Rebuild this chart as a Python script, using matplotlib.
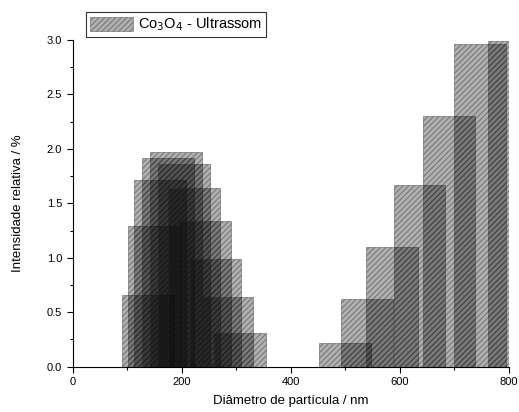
import matplotlib
matplotlib.use("Agg")
import matplotlib.pyplot as plt
from matplotlib.patches import Patch
from matplotlib.ticker import MultipleLocator

plt.rcParams["font.family"] = ["Liberation Sans", "DejaVu Sans"]
plt.rcParams["hatch.linewidth"] = 0.7

# --- Data (bin centre in nm, relative intensity in %) ---
diametro = [137.7, 149, 161, 175, 189.5, 205, 222, 243, 262, 284, 307,
            499, 540.5, 586, 636, 689.5, 747.5, 809.5]
intensidade = [0.66, 1.29, 1.71, 1.92, 1.97, 1.86, 1.64, 1.34, 0.99, 0.64, 0.31,
               0.22, 0.62, 1.10, 1.67, 2.30, 2.96, 2.99]
largura = 95

fig = plt.figure(figsize=(5.19, 4.12), dpi=100)
ax = fig.add_axes([0.1397, 0.110, 0.841, 0.793])

ax.bar(diametro, intensidade, width=largura, facecolor=(0, 0, 0, 0.31),
       edgecolor=(0.15, 0.15, 0.15, 0.45), linewidth=0.6, hatch="//////")

ax.set_xlim(0, 800)
ax.set_ylim(0, 3.0)
ax.xaxis.set_major_locator(MultipleLocator(200))
ax.xaxis.set_minor_locator(MultipleLocator(100))
ax.yaxis.set_major_locator(MultipleLocator(0.5))
ax.yaxis.set_minor_locator(MultipleLocator(0.25))
ax.yaxis.set_major_formatter(plt.FormatStrFormatter("%.1f"))
ax.tick_params(which="both", direction="out", labelsize=8, width=0.8)
ax.tick_params(which="major", length=4)
ax.tick_params(which="minor", length=2.5)
for s in ["top", "right"]:
    ax.spines[s].set_visible(False)

ax.set_xlabel("Diâmetro de partícula / nm", fontsize=9.5, labelpad=6)
ax.set_ylabel("Intensidade relativa / %", fontsize=9.5, labelpad=16)

handle = Patch(facecolor=(0, 0, 0, 0.31), edgecolor=(0.15, 0.15, 0.15, 0.45),
               hatch="//////", linewidth=0.6)
fig.legend([handle], ["Co$_3$O$_4$ - Ultrassom"], loc="upper left",
           bbox_to_anchor=(86 / 519, 1 - 12 / 412), frameon=True, fancybox=False,
           edgecolor="black", fontsize=10.5, borderpad=0.25, handlelength=3.0,
           handleheight=1.1, borderaxespad=0, handletextpad=0.35).get_frame().set_linewidth(0.8)

fig.savefig("out.png", dpi=100)
